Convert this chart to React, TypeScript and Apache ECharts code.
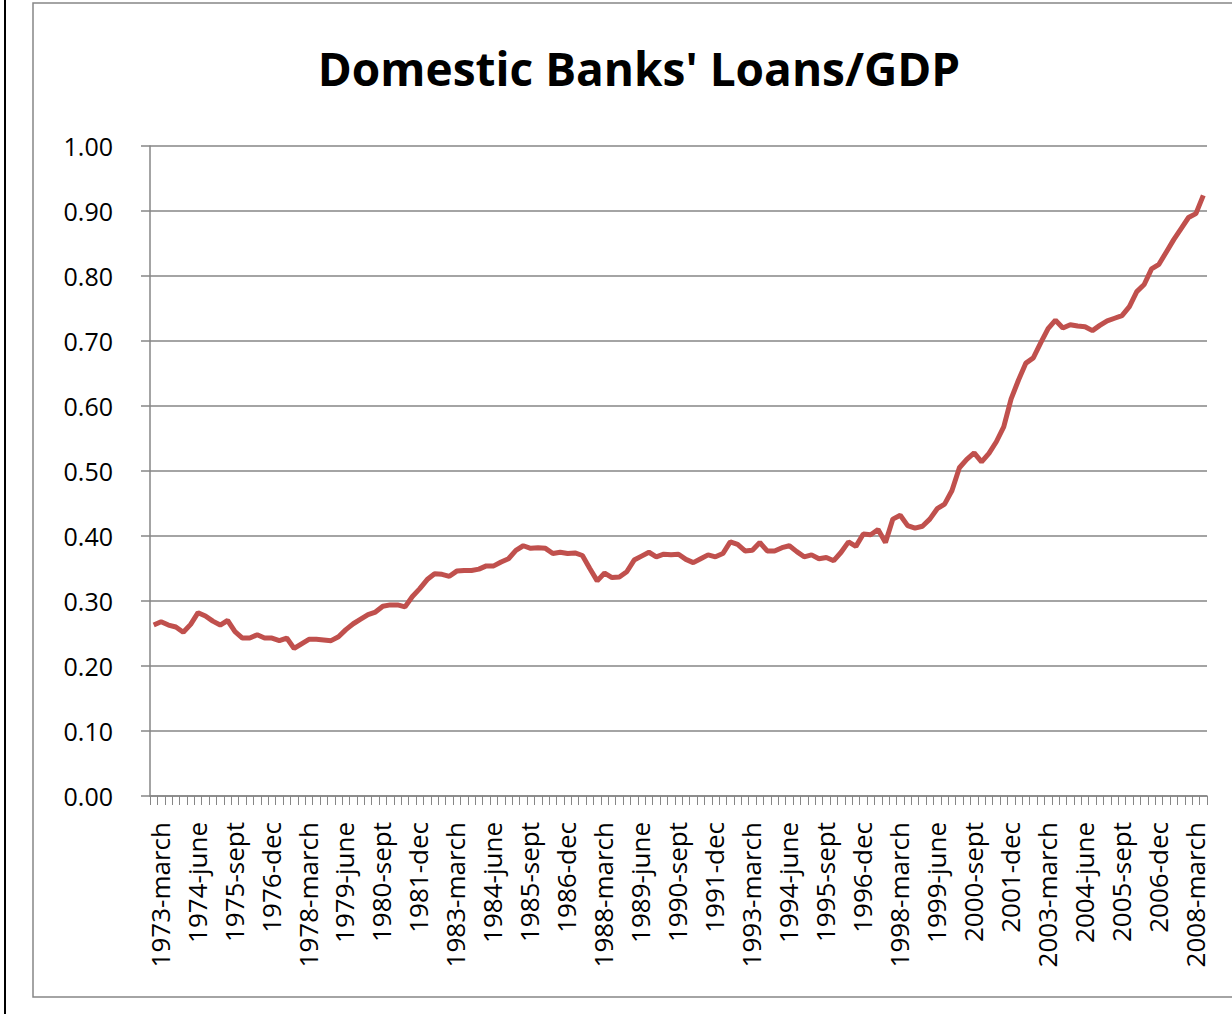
import React, { useEffect, useRef } from "react";
import * as echarts from "echarts";

const monthNames = ["march", "june", "sept", "dec"];
const startYear = 1973;
const quarterCount = 143;
const categories: string[] = [];
for (let i = 0; i < quarterCount; i++) {
  categories.push(`${startYear + Math.floor(i / 4)}-${monthNames[i % 4]}`);
}

const loansToGdp = [
  0.263, 0.268, 0.263, 0.260, 0.252, 0.264, 0.282, 0.277, 0.269, 0.263,
  0.270, 0.253, 0.243, 0.243, 0.248, 0.243, 0.243, 0.239, 0.243, 0.227,
  0.234, 0.241, 0.241, 0.240, 0.239, 0.245, 0.256, 0.265, 0.272, 0.279,
  0.283, 0.292, 0.294, 0.294, 0.291, 0.307, 0.319, 0.333, 0.342, 0.341,
  0.338, 0.346, 0.347, 0.347, 0.349, 0.354, 0.354, 0.360, 0.365, 0.378,
  0.385, 0.381, 0.382, 0.381, 0.373, 0.375, 0.373, 0.374, 0.370, 0.350,
  0.331, 0.343, 0.336, 0.337, 0.345, 0.363, 0.369, 0.375, 0.368, 0.372,
  0.371, 0.372, 0.364, 0.359, 0.365, 0.371, 0.368, 0.373, 0.391, 0.387,
  0.377, 0.378, 0.390, 0.377, 0.377, 0.382, 0.385, 0.376, 0.368, 0.371,
  0.365, 0.367, 0.362, 0.375, 0.391, 0.384, 0.403, 0.402, 0.410, 0.390,
  0.426, 0.432, 0.416, 0.412, 0.415, 0.426, 0.442, 0.449, 0.470, 0.505,
  0.518, 0.528, 0.514, 0.527, 0.545, 0.568, 0.611, 0.640, 0.666, 0.674,
  0.697, 0.719, 0.732, 0.720, 0.725, 0.723, 0.722, 0.716, 0.724, 0.731,
  0.735, 0.739, 0.753, 0.776, 0.787, 0.811, 0.818, 0.837, 0.856, 0.873,
  0.890, 0.896, 0.924,
];

const FONT = "'Open Sans', 'Noto Sans', sans-serif";
const GRAY = "#868686";

export default function App() {
  const ref = useRef<HTMLDivElement>(null);
  useEffect(() => {
    if (!ref.current) return;
    const chart = echarts.init(ref.current, null, { renderer: "svg" });
    chart.setOption({
      animation: false,
      backgroundColor: "#ffffff",
      title: {
        text: "Domestic Banks' Loans/GDP",
        left: 634,
        top: 40,
        textAlign: "center",
        textStyle: {
          fontFamily: FONT,
          fontWeight: "bold",
          fontSize: 46,
          color: "#000000",
        },
      },
      graphic: [
        {
          type: "line",
          shape: { x1: 5, y1: 0, x2: 5, y2: 1014 },
          style: { stroke: "#000000", lineWidth: 2 },
          silent: true,
        },
        {
          type: "rect",
          shape: { x: 33, y: 3, width: 1220, height: 994 },
          style: { fill: "none", stroke: GRAY, lineWidth: 1.5 },
          silent: true,
        },
      ],
      grid: { left: 150, right: 25, top: 146, bottom: 218, containLabel: false },
      xAxis: {
        type: "category",
        data: categories,
        boundaryGap: true,
        axisLine: { show: true, lineStyle: { color: GRAY, width: 1.5 } },
        axisTick: {
          show: true,
          interval: 0,
          length: 9,
          lineStyle: { color: GRAY, width: 1 },
        },
        axisLabel: {
          interval: 4,
          rotate: 90,
          margin: 26,
          fontFamily: FONT,
          fontSize: 26,
          color: "#000000",
          verticalAlign: "top",
          lineHeight: 12,
        },
        splitLine: { show: false },
      },
      yAxis: {
        type: "value",
        min: 0,
        max: 1,
        interval: 0.1,
        axisLine: { show: true, lineStyle: { color: GRAY, width: 1.5 } },
        axisTick: { show: true, length: 9, lineStyle: { color: GRAY, width: 1.5 } },
        axisLabel: {
          margin: 37,
          fontFamily: FONT,
          fontSize: 25,
          color: "#000000",
          formatter: (v: number) => v.toFixed(2),
        },
        splitLine: { show: true, lineStyle: { color: GRAY, width: 1.5 } },
      },
      series: [
        {
          type: "line",
          data: loansToGdp,
          showSymbol: false,
          symbol: "none",
          lineStyle: { color: "#C0504D", width: 5 },
          itemStyle: { color: "#C0504D" },
          z: 3,
        },
      ],
    });
    return () => chart.dispose();
  }, []);
  return (
    <div
      ref={ref}
      style={{ position: "fixed", left: 0, top: 0, width: 1232, height: 1014 }}
    />
  );
}
